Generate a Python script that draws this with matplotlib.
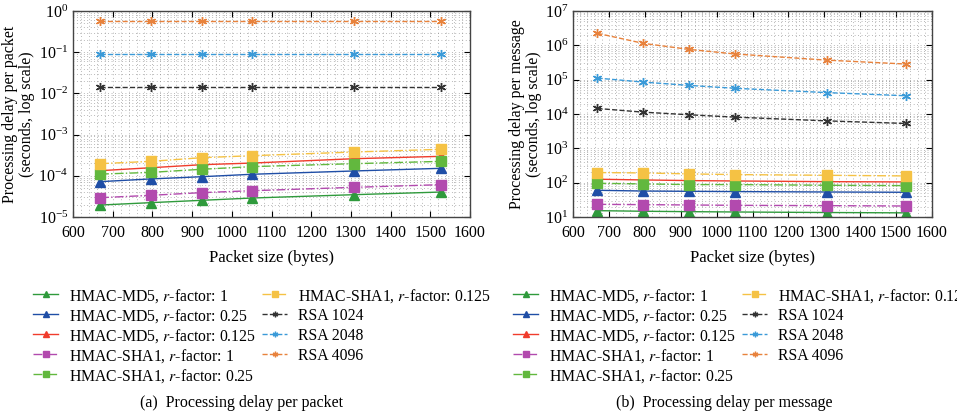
import numpy as np
import matplotlib
matplotlib.use("Agg")
import matplotlib.pyplot as plt
from matplotlib.lines import Line2D
from matplotlib.ticker import LogLocator, MultipleLocator, NullFormatter

plt.rcParams['font.family'] = ['Liberation Serif', 'DejaVu Serif']
plt.rcParams['mathtext.fontset'] = 'stix'

# packet sizes (bytes)
sizes = [668, 796, 924, 1052, 1308, 1528]

# (a) processing delay per packet (s)
pkt_md5_1 = [1.95e-5, 2.23e-5, 2.54e-5, 2.89e-5, 3.48e-5, 4.04e-5]
pkt_md5_025 = [7.2e-5, 8.4e-5, 9.5e-5, 1.09e-4, 1.31e-4, 1.52e-4]
pkt_md5_0125 = [1.33e-4, 1.57e-4, 1.86e-4, 2.04e-4, 2.6e-4, 2.97e-4]
pkt_sha1_1 = [2.94e-5, 3.36e-5, 3.9e-5, 4.35e-5, 5.25e-5, 6.1e-5]
pkt_sha1_025 = [1.1e-4, 1.21e-4, 1.44e-4, 1.67e-4, 1.97e-4, 2.24e-4]
pkt_sha1_0125 = [1.97e-4, 2.24e-4, 2.75e-4, 3.08e-4, 3.78e-4, 4.4e-4]
pkt_rsa1024 = [0.0146, 0.0146, 0.0146, 0.0146, 0.0146, 0.0146]
pkt_rsa2048 = [0.0887, 0.0887, 0.0887, 0.0887, 0.0887, 0.0887]
pkt_rsa4096 = [0.57, 0.57, 0.57, 0.57, 0.57, 0.57]

# (b) processing delay per message
msg_md5_1 = [15.3, 14.7, 14.3, 14.0, 13.5, 13.2]
msg_md5_025 = [60, 57, 56, 55, 53.5, 52.5]
msg_md5_0125 = [126, 120, 115, 112, 107, 105]
msg_sha1_1 = [23.4, 22.9, 22.4, 21.9, 21.4, 20.9]
msg_sha1_025 = [96, 92, 88, 88, 84, 82]
msg_sha1_0125 = [197, 192, 180, 172, 164, 157]
msg_rsa1024 = [1.45e4, 1.13e4, 9.5e3, 8.1e3, 6.3e3, 5.3e3]
msg_rsa2048 = [1.11e5, 8.5e4, 6.8e4, 5.6e4, 4.2e4, 3.4e4]
msg_rsa4096 = [2.24e6, 1.14e6, 7.6e5, 5.6e5, 3.7e5, 2.85e5]

labels = ['HMAC-MD5, $r$-factor: 1', 'HMAC-MD5, $r$-factor: 0.25',
          'HMAC-MD5, $r$-factor: 0.125', 'HMAC-SHA1, $r$-factor: 1',
          'HMAC-SHA1, $r$-factor: 0.25', 'HMAC-SHA1, $r$-factor: 0.125',
          'RSA 1024', 'RSA 2048', 'RSA 4096']
colors = ['#2f9a3c', '#1f4ea6', '#f03c2c', '#b24aae', '#62b83e',
          '#f5c244', '#333333', '#3a9ad8', '#e8823c']
styles = ['-', '-', '-', '-.', '-.', '-.', '--', '--', '--']
markers = ['^', '^', '^', 's', 's', 's', (6, 2, 0), (6, 2, 0), (6, 2, 0)]

pkt = [pkt_md5_1, pkt_md5_025, pkt_md5_0125, pkt_sha1_1, pkt_sha1_025,
       pkt_sha1_0125, pkt_rsa1024, pkt_rsa2048, pkt_rsa4096]
msg = [msg_md5_1, msg_md5_025, msg_md5_0125, msg_sha1_1, msg_sha1_025,
       msg_sha1_0125, msg_rsa1024, msg_rsa2048, msg_rsa4096]

W, H = 957, 412
fig = plt.figure(figsize=(W / 100, H / 100), dpi=100)
ax1 = fig.add_axes([73 / W, 1 - 217 / H, 397 / W, 206 / H])
ax2 = fig.add_axes([573 / W, 1 - 217 / H, 359 / W, 206 / H])


def draw(ax, data, ylim, ylabel):
    for d, c, ls, m, lab in zip(data, colors, styles, markers, labels):
        ax.plot(sizes, d, color=c, ls=ls, marker=m, markersize=6.5,
                lw=1.0, label=lab, markeredgewidth=1.0)
    ax.set_yscale('log')
    ax.set_xlim(600, 1600)
    ax.set_ylim(*ylim)
    ax.xaxis.set_major_locator(MultipleLocator(100))
    ax.xaxis.set_minor_locator(MultipleLocator(20))
    ax.yaxis.set_major_locator(LogLocator(base=10, numticks=20))
    ax.yaxis.set_minor_locator(LogLocator(base=10, subs=np.arange(2, 10), numticks=20))
    ax.yaxis.set_minor_formatter(NullFormatter())
    ax.grid(True, which='both', ls=(0, (1, 4)), color='#777777', lw=0.5)
    ax.tick_params(which='both', direction='in', top=True, right=True,
                   labelsize=11.5)
    ax.tick_params(which='minor', length=0)
    ax.tick_params(which='major', length=4)
    ax.tick_params(axis='x', pad=6)
    for s in ax.spines.values():
        s.set_color('#444444')
        s.set_linewidth(1.0)
    ax.set_xlabel('Packet size (bytes)', fontsize=12, labelpad=6)
    ax.set_ylabel(ylabel, fontsize=11.5, linespacing=1.1, labelpad=2)


draw(ax1, pkt, (1e-5, 1), 'Processing delay per packet\n(seconds, log scale)')
draw(ax2, msg, (10, 1e7), 'Processing delay per message\n(seconds, log scale)')

# legends below each panel, two columns (5 + 4 rows)
for x0 in [0, 480]:
    for i, lab in enumerate(labels):
        col, row = (0, i) if i < 5 else (1, i - 5)
        hx = x0 + 33 + col * 229
        yy = 1 - (294 + row * 20) / H
        fig.add_artist(Line2D([hx / W, (hx + 25) / W], [yy, yy], color=colors[i],
                              ls=styles[i], lw=1.0, transform=fig.transFigure))
        fig.add_artist(Line2D([(hx + 12.5) / W], [yy], color=colors[i],
                              marker=markers[i], markersize=4,
                              transform=fig.transFigure))
        fig.text((hx + 36) / W, yy, lab, fontsize=11.3, va='center_baseline')

fig.text(241 / W, 0.012, '(a)  Processing delay per packet', ha='center', fontsize=11.5)
fig.text(724 / W, 0.012, '(b)  Processing delay per message', ha='center', fontsize=11.5)

fig.savefig('out.png', dpi=100)
